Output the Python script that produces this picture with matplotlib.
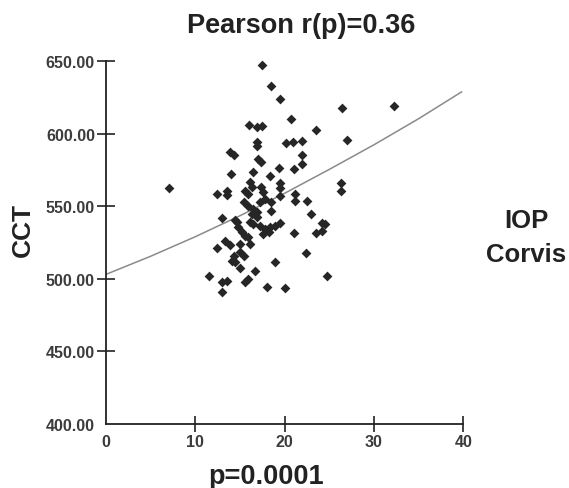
import matplotlib
matplotlib.use("Agg")
import matplotlib.pyplot as plt

plt.rcParams['font.family'] = ['Liberation Sans', 'DejaVu Sans']
plt.rcParams['font.weight'] = 'bold'

# IOP Corvis (x) vs CCT (y)
iop = [7.0, 17.5, 18.5, 19.5, 26.4, 32.2, 20.7, 16.0, 16.9, 17.5,
       23.5, 27.0, 20.2, 20.9, 21.9, 16.9, 16.9, 13.9, 14.3, 21.9,
       21.9, 21.0, 17.0, 17.4, 19.4, 14.0, 16.5, 18.4, 19.5, 19.5,
       19.5, 26.3, 26.3, 12.4, 13.5, 13.5, 16.1, 16.3, 15.6, 15.9,
       17.4, 17.6, 21.2, 21.2, 22.5, 15.4, 15.9, 16.5, 16.9, 17.2,
       17.8, 16.3, 16.9, 13.0, 14.4, 14.8, 16.1, 16.5, 17.2, 17.8,
       18.4, 18.9, 19.5, 22.9, 15.6, 17.6, 18.2, 12.4, 13.3, 13.9,
       15.0, 15.0, 15.9, 16.1, 14.3, 14.1, 14.4, 15.4, 15.0, 16.7,
       11.5, 13.0, 13.5, 13.0, 15.6, 15.9, 18.0, 20.0, 18.9, 21.1,
       22.4, 23.5, 24.2, 24.5, 24.2, 24.7, 18.5, 18.5, 15.2, 14.7]
cct = [562.5, 647.5, 632.8, 623.8, 618.0, 619.0, 610.4, 606.3, 605.1, 605.4,
       603.0, 596.1, 593.6, 594.3, 595.4, 594.3, 591.3, 587.8, 585.1, 585.1,
       578.9, 575.9, 582.8, 580.5, 576.6, 572.0, 573.6, 570.8, 566.0, 562.8,
       557.4, 566.0, 560.5, 558.6, 560.9, 558.1, 566.7, 563.2, 560.9, 558.6,
       563.2, 559.8, 558.6, 553.9, 553.9, 552.9, 550.5, 548.2, 546.0, 552.9,
       555.2, 544.8, 542.5, 541.8, 540.2, 535.6, 539.0, 537.9, 536.7, 534.4,
       535.6, 536.7, 538.6, 544.6, 529.8, 531.0, 532.1, 521.0, 526.3, 523.4,
       524.0, 518.3, 528.7, 524.0, 516.0, 512.5, 511.4, 516.0, 507.3, 505.0,
       502.1, 497.6, 498.7, 490.7, 497.6, 499.9, 494.5, 493.4, 511.4, 531.4,
       517.6, 531.4, 533.2, 537.9, 538.6, 501.7, 552.9, 547.0, 532.1, 539.5]

# fitted curve, read at a few x positions
fit_x = [0, 5, 10, 15, 20, 25, 30, 35, 39.8]
fit_y = [503.0, 515.5, 529.0, 543.5, 559.0, 575.5, 592.5, 610.5, 629.0]

x_ticks = [0, 10, 20, 30, 40]
y_ticks = [400, 450, 500, 550, 600, 650]

fig = plt.figure(figsize=(5.69, 4.89), dpi=100)
ax = fig.add_axes([0.1863, 0.1319, 0.628, 0.7403])

ax.plot(fit_x, fit_y, color='#8a8a8a', lw=1.1, zorder=2)
ax.scatter(iop, cct, marker='D', s=25, color='#262626', linewidths=0, zorder=3, clip_on=False)

ax.set_xlim(0, 40)
ax.set_ylim(400, 650)
ax.set_xticks(x_ticks)
ax.set_yticks(y_ticks)
ax.set_xticklabels([str(v) for v in x_ticks])
ax.set_yticklabels(['%.2f' % v for v in y_ticks])

for s in ['top', 'right']:
    ax.spines[s].set_visible(False)
for s in ['left', 'bottom']:
    ax.spines[s].set_linewidth(1.3)
    ax.spines[s].set_color('#222222')

ax.tick_params(axis='y', direction='inout', length=13, width=1.2, color='#222222',
               labelsize=11.5, labelcolor='#3c3c3c', pad=1.5)
ax.tick_params(axis='x', direction='inout', length=11, width=1.2, color='#222222',
               labelsize=11.5, labelcolor='#3c3c3c', pad=2)
for lab in ax.get_xticklabels() + ax.get_yticklabels():
    lab.set_fontweight('bold')

# no tick marks at the corner (0 / 400.00)
ax.xaxis.get_major_ticks()[0].tick1line.set_visible(False)
ax.yaxis.get_major_ticks()[0].tick1line.set_visible(False)

fig.text(0.529, 0.9315, 'Pearson r(p)=0.36', ha='center', va='baseline',
         fontsize=19.5, fontweight='bold', color='#222222')
fig.text(0.9253, 0.5337, 'IOP', ha='center', va='baseline',
         fontsize=18.5, fontweight='bold', color='#222222')
fig.text(0.9253, 0.4648, 'Corvis', ha='center', va='baseline',
         fontsize=18.5, fontweight='bold', color='#222222')
fig.text(0.0404, 0.5297, 'CCT', ha='center', va='center', rotation=90,
         fontsize=19, fontweight='bold', color='#222222')
fig.text(0.4675, 0.0102, 'p=0.0001', ha='center', va='baseline',
         fontsize=19.5, fontweight='bold', color='#222222')

fig.savefig('out.png', dpi=100)
